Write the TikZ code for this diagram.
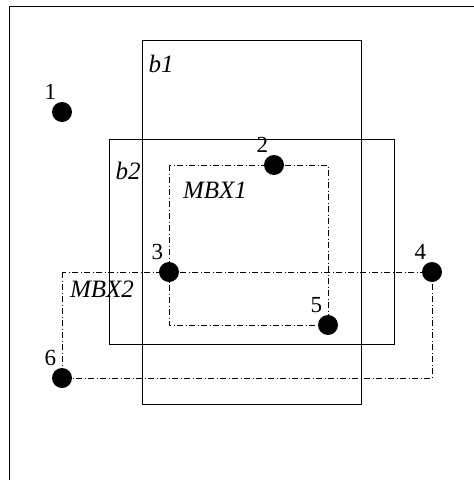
\documentclass[tikz,border=0pt]{standalone}
\usepackage{fontspec}
\setmainfont{Liberation Serif}
\usetikzlibrary{positioning}

\tikzset{
  dot/.style={circle, fill=black, inner sep=0pt, minimum size=20pt},
  num/.style={font=\fontsize{23}{23}\selectfont, inner sep=1pt, xshift=3pt, yshift=4pt},
  boxlbl/.style={font=\fontsize{25}{25}\selectfont\itshape, inner sep=0pt},
  mbx/.style={dash pattern=on 6pt off 2.5pt on 1pt off 2.5pt},
}

\begin{document}
\begin{tikzpicture}[x=1pt, y=-1pt, line width=0.8pt]
    \useasboundingbox (0,0) rectangle (474,480);
    % frame
    \draw (9,480) -- (9,6) -- (474,6);
    % boxes b1, b2
    \draw (142,40) rectangle (361,404);
    \draw (109,139) rectangle (394,344);
    \node[boxlbl] (b1) at (161,64) {b1};
    \node[boxlbl] (b2) at (128,171) {b2};
    % points
    \node[dot, label={[num]above left:1}] (p1) at (62,112) {};
    \node[dot, label={[num]above left:2}] (p2) at (274,165) {};
    \node[dot, label={[num]above left:3}] (p3) at (169,272) {};
    \node[dot, label={[num]above left:4}] (p4) at (432,272) {};
    \node[dot, label={[num]above left:5}] (p5) at (328,325) {};
    \node[dot, label={[num]above left:6}] (p6) at (62,378) {};
    % minimum bounding boxes
    \draw[mbx] (p3 |- p2) rectangle (p5);
    \draw[mbx] (p6 |- p4) rectangle (p4 |- p6);
    \node[boxlbl] (mbx1) at (215,190) {MBX1};
    \node[boxlbl] (mbx2) at (102,289) {MBX2};
\end{tikzpicture}
\end{document}
